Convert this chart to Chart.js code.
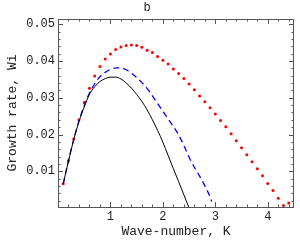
<!DOCTYPE html>
<html>
<head>
<meta charset="utf-8">
<script src="https://cdn.jsdelivr.net/npm/chart.js@4.4.1/dist/chart.umd.min.js"></script>
<style>
  html, body { margin: 0; padding: 0; background: #fff; }
  #wrap { width: 300px; height: 240px; }
</style>
</head>
<body>
<div id="wrap"><canvas id="chart"></canvas></div>
<script>
// wave-number K for each curve
const kRed = [0.1, 0.2, 0.3, 0.4, 0.5, 0.6, 0.7, 0.8, 0.9, 1.0,
    1.1, 1.2, 1.3, 1.4, 1.5, 1.6, 1.7, 1.8, 1.9, 2.0,
    2.1, 2.2, 2.3, 2.4, 2.5, 2.6, 2.7, 2.8, 2.9, 3.0,
    3.1, 3.2, 3.3, 3.4, 3.5, 3.6, 3.7, 3.8, 3.9, 4.0,
    4.1, 4.2, 4.3, 4.4, 4.5];
const kBlue = [0.1, 0.2, 0.3, 0.4, 0.5, 0.6, 0.7, 0.8, 0.9, 1.0,
    1.1, 1.2, 1.3, 1.4, 1.5, 1.6, 1.7, 1.8, 1.9, 2.0,
    2.1, 2.2, 2.3, 2.4, 2.5, 2.6, 2.7, 2.8, 2.9, 2.93];
const kBlack = [0.1, 0.2, 0.3, 0.4, 0.5, 0.6, 0.7, 0.8, 0.9, 1.0,
    1.1, 1.2, 1.3, 1.4, 1.5, 1.6, 1.7, 1.8, 1.9, 2.0,
    2.1, 2.2, 2.3, 2.4, 2.5];

// growth rate Wi
const wiRed = [0.0066, 0.0129, 0.0188, 0.0240, 0.0287, 0.0326, 0.0359, 0.0385, 0.0405, 0.0419,
    0.0431, 0.0438, 0.0442, 0.0443, 0.0442, 0.0437, 0.0429, 0.0423, 0.0412, 0.0402,
    0.0392, 0.0378, 0.0366, 0.0352, 0.0337, 0.0322, 0.0305, 0.0289, 0.0273, 0.0256,
    0.0238, 0.0221, 0.0202, 0.0183, 0.0164, 0.0145, 0.0126, 0.0107, 0.0088, 0.0067,
    0.0048, 0.0027, 0.0007, 0.0014, 0.0002];
const wiBlue = [0.0066, 0.0129, 0.0187, 0.0237, 0.0279, 0.0313, 0.0338, 0.0357, 0.0369, 0.0377,
    0.0381, 0.0381, 0.0376, 0.0367, 0.0355, 0.0341, 0.0325, 0.0305, 0.0284, 0.0263,
    0.0242, 0.0222, 0.0199, 0.0170, 0.0138, 0.0111, 0.0087, 0.0061, 0.0030, 0.0018];
const wiBlack = [0.0066, 0.0128, 0.0186, 0.0235, 0.0275, 0.0309, 0.0330, 0.0344, 0.0352, 0.0356,
    0.0356, 0.0351, 0.0340, 0.0326, 0.0309, 0.0290, 0.0267, 0.0240, 0.0211, 0.0179,
    0.0143, 0.0107, 0.0072, 0.0036, 0.0000];

const xTicks = [1, 2, 3, 4];
const yTicks = [0.01, 0.02, 0.03, 0.04, 0.05];
const xMinorStep = 0.2;
const yMinorStep = 0.002;

const monoFont = '"Liberation Mono", "DejaVu Sans Mono", monospace';

const toPoints = (xs, ys) => xs.map((x, i) => ({ x: x, y: ys[i] }));

// Mathematica-style frame with inward ticks on all four sides
const framePlugin = {
    id: 'frame',
    afterDatasetsDraw(chart) {
        const { ctx, chartArea: a, scales } = chart;
        const xs = scales.x, ys = scales.y;
        ctx.save();
        ctx.strokeStyle = '#555';
        ctx.lineWidth = 1;
        ctx.strokeRect(Math.round(a.left) + 0.5, Math.round(a.top) + 0.5,
            Math.round(a.right - a.left) - 1, Math.round(a.bottom - a.top));

        ctx.beginPath();
        for (let v = 0; v <= xs.max + 1e-9; v += xMinorStep) {
            const major = xTicks.some(t => Math.abs(t - v) < 1e-6);
            const len = major ? 5 : 2.5;
            const px = Math.round(xs.getPixelForValue(v)) + 0.5;
            if (px <= a.left + 1 || px >= a.right - 1) continue;
            ctx.moveTo(px, a.bottom); ctx.lineTo(px, a.bottom - len);
            ctx.moveTo(px, a.top); ctx.lineTo(px, a.top + len);
        }
        for (let v = 0; v <= ys.max + 1e-9; v += yMinorStep) {
            if (v < ys.min) continue;
            const major = yTicks.some(t => Math.abs(t - v) < 1e-6);
            const len = major ? 5 : 2.5;
            const py = Math.round(ys.getPixelForValue(v)) + 0.5;
            if (py <= a.top + 1 || py >= a.bottom - 1) continue;
            ctx.moveTo(a.left, py); ctx.lineTo(a.left + len, py);
            ctx.moveTo(a.right, py); ctx.lineTo(a.right - len, py);
        }
        ctx.stroke();
        ctx.restore();
    }
};

new Chart(document.getElementById('chart'), {
    type: 'line',
    data: {
        datasets: [{
            label: 'black',
            data: toPoints(kBlack, wiBlack),
            borderColor: '#000',
            borderWidth: 1,
            pointRadius: 0,
            cubicInterpolationMode: 'monotone'
        }, {
            label: 'blue',
            data: toPoints(kBlue, wiBlue),
            borderColor: '#0000ff',
            borderWidth: 1.3,
            borderDash: [6, 4],
            pointRadius: 0,
            cubicInterpolationMode: 'monotone'
        }, {
            label: 'red',
            data: toPoints(kRed, wiRed),
            showLine: false,
            pointRadius: 1.5,
            pointBackgroundColor: '#ff0000',
            pointBorderWidth: 0
        }]
    },
    options: {
        responsive: true,
        maintainAspectRatio: false,
        animation: false,
        layout: { padding: { left: 0, right: 6, top: 0, bottom: 0 } },
        plugins: {
            legend: { display: false },
            tooltip: { enabled: false },
            title: {
                display: true,
                text: 'b',
                color: '#222',
                font: { family: monoFont, size: 12, weight: 'normal' },
                padding: { top: 1, bottom: 3.6 }
            }
        },
        scales: {
            x: {
                type: 'linear',
                min: 0,
                max: 4.5,
                grid: { display: false, drawTicks: false },
                border: { display: false },
                afterBuildTicks: s => { s.ticks = xTicks.map(v => ({ value: v })); },
                afterFit: s => { s.height = 33; },
                ticks: {
                    color: '#222',
                    padding: 3,
                    maxRotation: 0,
                    font: { family: monoFont, size: 12 },
                    callback: v => String(v)
                },
                title: {
                    display: true,
                    text: 'Wave-number, K',
                    color: '#222',
                    font: { family: monoFont, size: 13 },
                    padding: { top: 0, bottom: 0.5 }
                }
            },
            y: {
                min: 0.0003,
                max: 0.0514,
                grid: { display: false, drawTicks: false },
                border: { display: false },
                afterBuildTicks: s => { s.ticks = yTicks.map(v => ({ value: v })); },
                afterFit: s => { s.width = 58; },
                ticks: {
                    color: '#222',
                    padding: 3,
                    font: { family: monoFont, size: 12 },
                    callback: v => v.toFixed(2)
                },
                title: {
                    display: true,
                    text: 'Growth rate, Wi',
                    color: '#222',
                    font: { family: monoFont, size: 13 },
                    padding: { top: 5, bottom: 0 }
                }
            }
        }
    },
    plugins: [framePlugin]
});
</script>
</body>
</html>
